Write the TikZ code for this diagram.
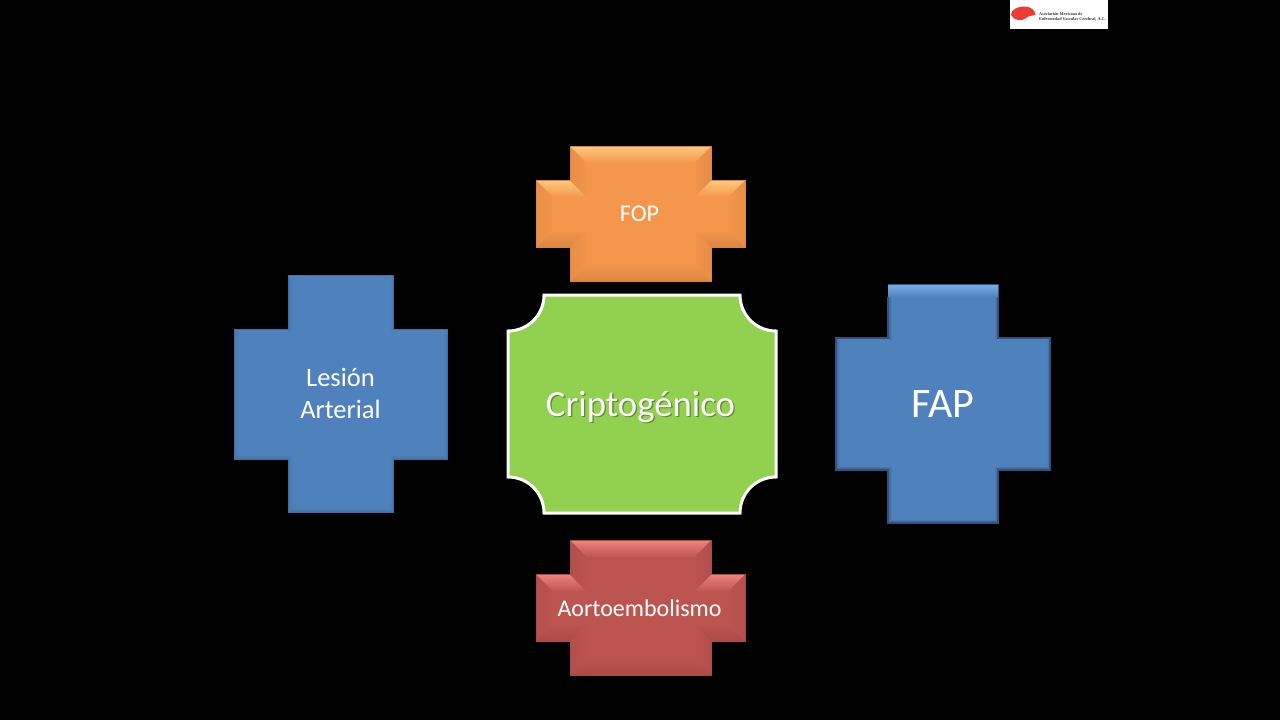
\documentclass[tikz,border=0pt]{standalone}
\usepackage{fontspec}
\setmainfont{Carlito}
\newfontfamily\logofont{Liberation Serif}
\definecolor{orbase}{RGB}{244,150,76}
\definecolor{orlight}{RGB}{254,200,124}
\definecolor{ordark}{RGB}{220,134,66}
\definecolor{rdbase}{RGB}{188,84,80}
\definecolor{rdlight}{RGB}{238,130,125}
\definecolor{rddark}{RGB}{170,74,71}
\definecolor{blbase}{RGB}{79,129,189}
\definecolor{bllight}{RGB}{120,170,232}
\definecolor{bldark}{RGB}{48,82,124}
\definecolor{greenfill}{RGB}{146,208,80}
\definecolor{brainred}{RGB}{235,60,50}
\tikzset{
  label text/.style={text=white,align=center,inner sep=0pt,font=\fontsize{#1}{32}\selectfont},
}
% x0 x1 x2 x3 y0 y1 y2 y3 depth base light dark
\newcommand{\bevelcross}[9]{%
  \def\xa{#1}\def\xb{#2}\def\xc{#3}\def\xd{#4}\def\ya{#5}\def\yb{#6}\def\yc{#7}\def\yd{#8}\def\bvd{#9}\bevelcrossB}
\newcommand{\bevelcrossB}[3]{%
  \pgfmathsetmacro\xai{\xa+\bvd}\pgfmathsetmacro\xbi{\xb+\bvd}\pgfmathsetmacro\xci{\xc-\bvd}\pgfmathsetmacro\xdi{\xd-\bvd}%
  \pgfmathsetmacro\yai{\ya+\bvd}\pgfmathsetmacro\ybi{\yb+\bvd}\pgfmathsetmacro\yci{\yc-\bvd}\pgfmathsetmacro\ydi{\yd-\bvd}%
  \fill[#1] (\xb,\ya) -- (\xc,\ya) -- (\xc,\yb) -- (\xd,\yb) -- (\xd,\yc) -- (\xc,\yc) -- (\xc,\yd) -- (\xb,\yd) -- (\xb,\yc) -- (\xa,\yc) -- (\xa,\yb) -- (\xb,\yb) -- cycle;
  % top faces
  \shade[top color=#2,bottom color=#1] (\xb,\ya) -- (\xc,\ya) -- (\xci,\yai) -- (\xbi,\yai) -- cycle;
  \shade[top color=#2,bottom color=#1] (\xa,\yb) -- (\xb,\yb) -- (\xbi,\ybi) -- (\xai,\ybi) -- cycle;
  \shade[top color=#2,bottom color=#1] (\xc,\yb) -- (\xd,\yb) -- (\xdi,\ybi) -- (\xci,\ybi) -- cycle;
  % bottom faces
  \shade[bottom color=#3,top color=#1] (\xbi,\ydi) -- (\xci,\ydi) -- (\xc,\yd) -- (\xb,\yd) -- cycle;
  \shade[bottom color=#3,top color=#1] (\xai,\yci) -- (\xbi,\yci) -- (\xb,\yc) -- (\xa,\yc) -- cycle;
  \shade[bottom color=#3,top color=#1] (\xci,\yci) -- (\xdi,\yci) -- (\xd,\yc) -- (\xc,\yc) -- cycle;
  % left faces
  \shade[left color=#3!45!#1,right color=#1] (\xa,\yb) -- (\xai,\ybi) -- (\xai,\yci) -- (\xa,\yc) -- cycle;
  \shade[left color=#3!60!#1,right color=#1] (\xb,\ya) -- (\xbi,\yai) -- (\xbi,\ybi) -- (\xb,\yb) -- cycle;
  \shade[left color=#3!60!#1,right color=#1] (\xb,\yc) -- (\xbi,\yci) -- (\xbi,\ydi) -- (\xb,\yd) -- cycle;
  % right faces
  \shade[right color=#3!45!#1,left color=#1] (\xd,\yb) -- (\xdi,\ybi) -- (\xdi,\yci) -- (\xd,\yc) -- cycle;
  \shade[right color=#3!60!#1,left color=#1] (\xc,\ya) -- (\xci,\yai) -- (\xci,\ybi) -- (\xc,\yb) -- cycle;
  \shade[right color=#3!60!#1,left color=#1] (\xc,\yc) -- (\xci,\yci) -- (\xci,\ydi) -- (\xc,\yd) -- cycle;
  \draw[#3,line width=0.8pt,line join=miter] (\xb,\ya) -- (\xc,\ya) -- (\xc,\yb) -- (\xd,\yb) -- (\xd,\yc) -- (\xc,\yc) -- (\xc,\yd) -- (\xb,\yd) -- (\xb,\yc) -- (\xa,\yc) -- (\xa,\yb) -- (\xb,\yb) -- cycle;
}
\begin{document}
\begin{tikzpicture}[x=1pt,y=-1pt]
\useasboundingbox (0,0) rectangle (1280,720);
\fill[black] (0,0) rectangle (1280,720);
% logo
\fill[white] (1010,0) rectangle (1108,29);
\fill[brainred] (1011,15) .. controls (1011,9.5) and (1018,6.5) .. (1024,6.5) .. controls (1031,6.5) and (1035,10) .. (1035.5,15) .. controls (1032,15.5) and (1028,16) .. (1026,18) .. controls (1022,21.5) and (1014,21) .. (1011,15) -- cycle;
\node[text=black!80,align=left,inner sep=0pt,anchor=west,font=\logofont\bfseries\fontsize{4.2}{4.9}\selectfont] (logotext) at (1039,17) {Asociación Mexicana de\\Enfermedad Vascular Cerebral, A.C.};
% FOP
\bevelcross{536}{570}{711}{745}{146.5}{180.5}{247}{281}{17}{orbase}{orlight}{ordark}
\node[label text=24] (fop) at (639.5,214) {FOP};
% Aortoembolismo
\bevelcross{536}{570}{711}{745}{540.5}{574.5}{641}{675.5}{17}{rdbase}{rdlight}{rddark}
\node[label text=24] (aorto) at (639.5,608) {Aortoembolismo};
% Lesion arterial
\bevelcross{234.5}{288}{393.5}{447}{275.5}{329}{459}{512}{4}{blbase}{blbase}{blbase!85!black}
\node[label text=26.5] (lesion) at (340.5,393) {Lesión\\Arterial};
% FAP
\bevelcross{836}{888}{998}{1050}{284.5}{338}{470}{523}{4}{blbase}{blbase}{bldark}
\shade[top color=bllight,bottom color=blbase] (888,285) rectangle (998,297);
\draw[bldark,line width=1.4pt,line join=miter] (998,297) -- (998,338) -- (1050,338) -- (1050,470) -- (998,470) -- (998,523) -- (888,523) -- (888,470) -- (836,470) -- (836,338) -- (888,338) -- (888,297);
\node[label text=42] (fap) at (943,404) {FAP};
% Criptogenico
\filldraw[fill=greenfill,draw=white,line width=3pt,line join=miter]
  (544,295) -- (740,295) .. controls (740,315) and (756,331) .. (776,331)
  -- (776,477) .. controls (756,477) and (740,493) .. (740,513)
  -- (544,513) .. controls (544,493) and (528,477) .. (508,477)
  -- (508,331) .. controls (528,331) and (544,315) .. (544,295) -- cycle;
\node[label text=36.8,text=black!50!greenfill,opacity=0.7] (critoshadow) at (641.8,408) {Criptogénico};
\node[label text=36.8] (cripto) at (640.5,406.8) {Criptogénico};
\end{tikzpicture}
\end{document}
